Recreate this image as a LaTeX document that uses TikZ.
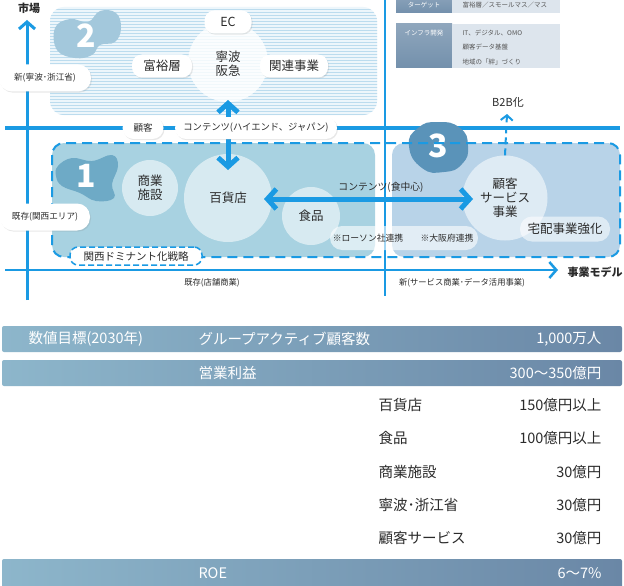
\documentclass[tikz,border=0pt]{standalone}
\usepackage{fontspec}
\setmainfont{Noto Sans CJK JP}
\usetikzlibrary{arrows.meta,shadows,patterns}
\definecolor{axisblue}{HTML}{1A9AE3}
\definecolor{rtwobg}{HTML}{EDF6FB}
\definecolor{rtwoline}{HTML}{BCDCEE}
\definecolor{blobtwo}{HTML}{A3C8DC}
\definecolor{roneFill}{HTML}{A8D2E1}
\definecolor{blobone}{HTML}{6EAAC6}
\definecolor{rthreeFill}{HTML}{B8D3E8}
\definecolor{blobthree}{HTML}{5A93B9}
\definecolor{barL}{HTML}{8DB6CB}
\definecolor{barR}{HTML}{6A87A6}
\definecolor{legdark}{HTML}{7390AC}
\definecolor{leglight}{HTML}{DDE5ED}
\definecolor{txt}{HTML}{2B2B2B}
\begin{document}
\begin{tikzpicture}[x=1pt,y=-1pt,
  pill/.style={rounded corners=#1, fill=white, text=txt, inner sep=0pt,
     drop shadow={opacity=0.18, shadow xshift=1pt, shadow yshift=-1.2pt}},
  pill/.default=10pt,
  bubble/.style={circle, fill=white, fill opacity=#1, text opacity=1, text=txt, align=center, inner sep=0pt},
  bubble/.default=0.6,
  axisline/.style={draw=axisblue, line width=3pt},
  tipa/.style={-{Straight Barb[length=7pt,width=16pt]}},
  bigarrow/.style={draw=axisblue, line width=5pt, {Straight Barb[length=9pt,width=20pt]}-{Straight Barb[length=9pt,width=20pt]}},
  bignum/.style={text=white, font=\bfseries\fontsize{32}{32}\selectfont},
  axlabel/.style={text=txt, font=\fontsize{8.3}{9}\selectfont},
  bartext/.style={text=white, font=\fontsize{14.5}{15}\selectfont},
  rowtext/.style={text=txt, font=\fontsize{14.5}{15}\selectfont},
  legtext/.style={font=\fontsize{6.5}{7}\selectfont},
  bar/.style={rounded corners=2pt, left color=barL, right color=barR, draw=none}
]
\useasboundingbox (0,0) rectangle (624,586);
\fill[white] (0,0) rectangle (624,586);

% ---------- region 2 (hatched) ----------
\fill[rtwobg, rounded corners=14pt] (50,7) rectangle (377,115);
\fill[pattern=horizontal lines, pattern color=rtwoline, rounded corners=14pt] (50,7) rectangle (377,115);
\fill[blobtwo] plot[smooth cycle, tension=0.7] coordinates {(55,28) (70,19) (88,22) (100,11) (116,13) (121,28) (115,42) (100,45) (92,55) (75,58) (57,50)};
\node[bignum] (n2) at (86,36) {2};

% ---------- legend ----------
\shade[top color=legdark!85!white, bottom color=legdark] (396,-2) rectangle (452,13);
\fill[leglight] (452,-2) rectangle (560,13);
\node[legtext, text=white] (lg1) at (424,5) {ターゲット};
\node[legtext, text=txt!80, anchor=west] (lg1r) at (459,5) {富裕層／スモールマス／マス};
\shade[top color=legdark!80!white, bottom color=legdark] (396,24) rectangle (452,68);
\fill[leglight] (452,24) rectangle (560,68);
\node[legtext, text=white] (lg2) at (424,33) {インフラ開発};
\node[legtext, text=txt!80, anchor=west] (lg2a) at (459,33) {IT、デジタル、OMO};
\node[legtext, text=txt!80, anchor=west] (lg2b) at (459,47) {顧客データ基盤};
\node[legtext, text=txt!80, anchor=west] (lg2c) at (459,62) {地域の「絆」づくり};

% ---------- axes and lines ----------
\coordinate (vaxB) at (27,300);
\coordinate (vaxT) at (27,20);
\coordinate (haxL) at (5,270);
\coordinate (haxR) at (558,270);
\coordinate (hupL) at (5,128);
\coordinate (hupR) at (620,128);
\coordinate (sepT) at (385,0);
\coordinate (sepB) at (385,296);
\draw[axisline, line width=3.5pt] (hupL) -- (hupR);
\draw[axisline, line width=2pt] (sepT) -- (sepB);
\draw[axisline, tipa] (vaxB) -- (vaxT);
\draw[axisline, line width=2.5pt, tipa] (haxL) -- (haxR);

\node[text=txt, font=\bfseries\fontsize{11}{12}\selectfont] (mkt) at (29,8) {市場};
\node[text=txt, font=\bfseries\fontsize{11}{12}\selectfont] (bm) at (595,272) {事業モデル};
\node[axlabel] (ax1) at (212,283) {既存(店舗商業)};
\node[axlabel] (ax2) at (462,283) {新(サービス商業･データ活用事業)};

% ---------- region 2 nodes ----------
\node[bubble=0.8, minimum size=80pt] (nb) at (228,62) {};
\node[pill, minimum width=47pt, minimum height=23pt, font=\fontsize{12.5}{13}\selectfont] (ec) at (228,22) {EC};
\node[text=txt, align=center, font=\fontsize{12.5}{14}\selectfont] (nbt) at (228,64) {寧波\\阪急};
\node[pill, minimum width=60pt, minimum height=23pt, font=\fontsize{12.5}{13}\selectfont] (fy) at (162,66) {富裕層};
\node[pill, minimum width=68pt, minimum height=23pt, font=\fontsize{12.5}{13}\selectfont] (kr) at (294,66) {関連事業};
\node[pill=13pt, minimum width=92pt, minimum height=27pt, font=\fontsize{8.6}{9}\selectfont] (new1) at (45,78) {新(寧波･浙江省)};

% ---------- region 1 & 3 ----------
\fill[roneFill, rounded corners=12pt] (52,143) rectangle (375,257);
\fill[rthreeFill, rounded corners=12pt] (392,143) rectangle (620,257);
\fill[blobone] plot[smooth cycle, tension=0.7] coordinates {(58,166) (72,158) (92,161) (112,155) (118,166) (112,184) (114,198) (96,201) (80,193) (62,186) (56,176)};
\node[bignum] (n1) at (86,176) {1};
\fill[blobthree] plot[smooth cycle, tension=0.9] coordinates {(409,146) (418,128) (438,122) (460,128) (468,146) (462,164) (444,172) (422,168)};
\node[bignum] (n3) at (438,146) {3};
\draw[axisblue, line width=2pt, dash pattern=on 10pt off 6pt, rounded corners=12pt] (52,143) rectangle (620,257);

\node[pill=13pt, minimum width=90pt, minimum height=27pt, font=\fontsize{8.6}{9}\selectfont] (old1) at (45,217) {既存(関西エリア)};

\node[bubble=0.55, minimum size=56pt, font=\fontsize{12.5}{14}\selectfont] (sg) at (150,188) {商業\\施設};
\node[bubble=0.55, minimum size=88pt, font=\fontsize{12.5}{14}\selectfont] (hk) at (228,198) {百貨店};
\node[bubble=0.55, minimum size=58pt, font=\fontsize{12.5}{14}\selectfont] (sh) at (311,216) {食品};
\node[bubble=0.55, minimum size=85pt, font=\fontsize{12.5}{14}\selectfont] (ks) at (505,198) {顧客\\サービス\\事業};

\node[fill=white, fill opacity=0.6, rounded corners=12pt, minimum width=148pt, minimum height=24pt] (tie) at (404,238) {};
\node[text=txt, font=\fontsize{8.8}{9}\selectfont] (law) at (368,238) {※ローソン社連携};
\node[text=txt, font=\fontsize{8.8}{9}\selectfont] (osk) at (447,238) {※大阪府連携};
\node[fill=white, fill opacity=0.55, text opacity=1, text=txt, rounded corners=12pt, minimum width=90pt, minimum height=25pt, font=\fontsize{12.5}{13}\selectfont] (tk) at (565,229) {宅配事業強化};

\node[fill=white, text=txt, draw=axisblue, line width=1.5pt, dash pattern=on 6pt off 3pt, rounded corners=8pt, minimum width=132pt, minimum height=18pt, inner sep=0pt, font=\fontsize{10.5}{11}\selectfont] (kd) at (136,256) {関西ドミナント化戦略};

% ---------- arrows ----------
\coordinate (vaT) at (228,100);
\coordinate (vaB) at (228,170);
\draw[bigarrow] (vaT) -- (vaB);
\coordinate (haL) at (264,199);
\coordinate (haR) at (473,199);
\draw[bigarrow] (haL) -- (haR);
\node[text=txt, font=\fontsize{9.8}{10}\selectfont] (cf) at (381,187) {コンテンツ(食中心)};

\coordinate (b2bT) at (507,114);
\draw[axisblue, line width=2pt, dash pattern=on 7pt off 4pt, -{Straight Barb[length=5pt,width=12pt]}] (ks.north) -- (b2bT);
\node[text=txt, font=\fontsize{11}{12}\selectfont] (b2b) at (508,102) {B2B化};

% pills on upper line
\node[pill=11pt, minimum width=41pt, minimum height=22pt, font=\fontsize{9.5}{10}\selectfont] (kk) at (143,128) {顧客};
\node[pill=11pt, minimum width=162pt, minimum height=22pt, font=\fontsize{9.3}{10}\selectfont] (ct) at (256,128) {コンテンツ(ハイエンド、ジャパン)};

% ---------- table ----------
\shade[bar] (2,326) rectangle (622,352);
\node[bartext, anchor=west] (t1a) at (25,339) {数値目標(2030年)};
\node[bartext, anchor=west] (t1b) at (195,339) {グループアクティブ顧客数};
\node[bartext, anchor=east] (t1c) at (605,339) {1,000万人};
\shade[bar] (2,360) rectangle (622,386);
\node[bartext, anchor=west] (t2b) at (195,373) {営業利益};
\node[bartext, anchor=east] (t2c) at (605,373) {300〜350億円};

\node[rowtext, anchor=west] (r1a) at (375,405) {百貨店};
\node[rowtext, anchor=east] (r1b) at (605,405) {150億円以上};
\node[rowtext, anchor=west] (r2a) at (375,438) {食品};
\node[rowtext, anchor=east] (r2b) at (605,438) {100億円以上};
\node[rowtext, anchor=west] (r3a) at (375,472) {商業施設};
\node[rowtext, anchor=east] (r3b) at (605,472) {30億円};
\node[rowtext, anchor=west] (r4a) at (375,505) {寧波･浙江省};
\node[rowtext, anchor=east] (r4b) at (605,505) {30億円};
\node[rowtext, anchor=west] (r5a) at (375,538) {顧客サービス};
\node[rowtext, anchor=east] (r5b) at (605,538) {30億円};

\shade[bar] (2,559) rectangle (622,590);
\node[bartext, anchor=west] (t3b) at (195,573) {ROE};
\node[bartext, anchor=east] (t3c) at (605,573) {6〜7\%};
\end{tikzpicture}
\end{document}
